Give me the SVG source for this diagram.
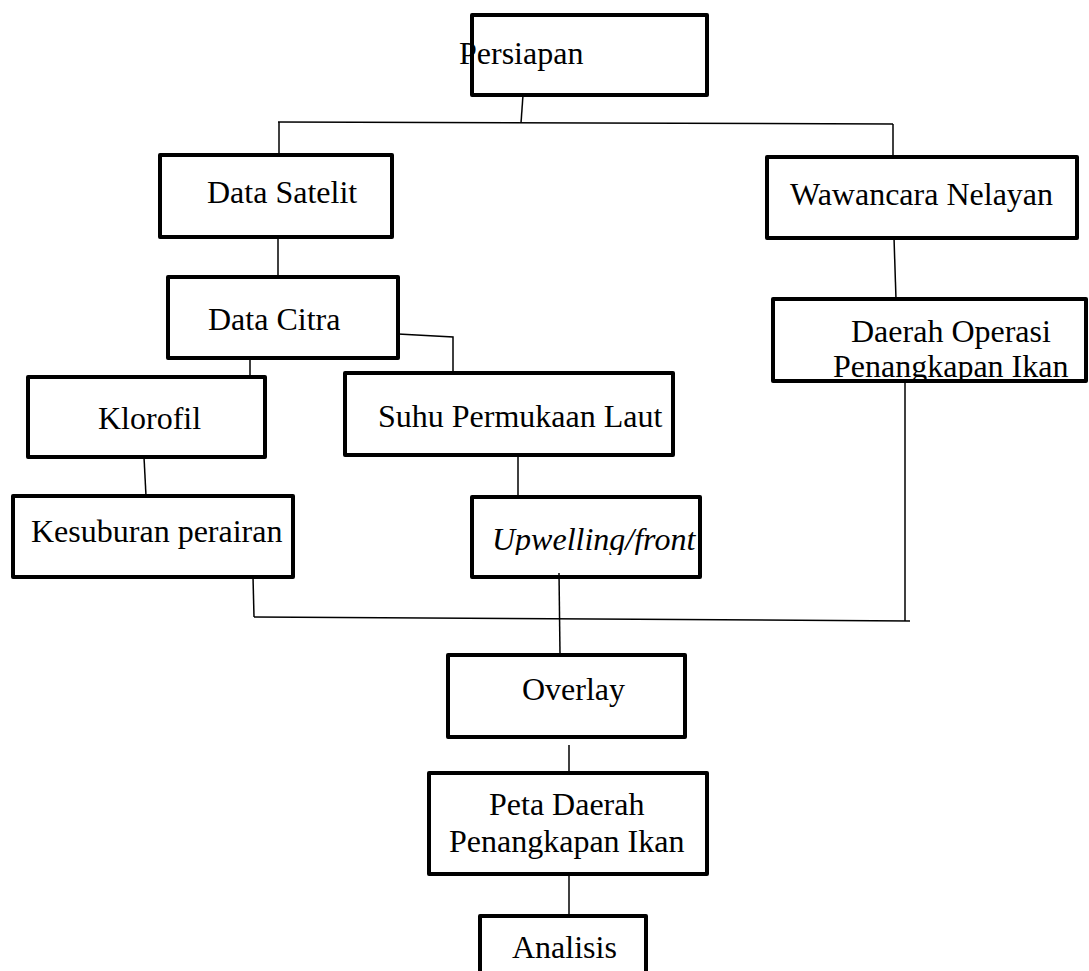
<svg xmlns="http://www.w3.org/2000/svg" width="1089" height="971" viewBox="0 0 1089 971">
<style>
.box{fill:none;stroke:#000;stroke-width:4;stroke-linejoin:round}
.t{font-family:"Liberation Serif","Times New Roman",serif;font-size:32px;fill:#000}
.i{font-style:italic}
.c{fill:none;stroke:#000;stroke-width:1.5}
</style>
<defs>
<clipPath id="upclip"><rect x="470" y="495" width="240" height="60"/></clipPath>
<clipPath id="doclip"><rect x="771" y="297" width="320" height="83"/></clipPath>
</defs>
<rect x="0" y="0" width="1089" height="971" fill="#fff"/>
<g id="connectors">
<polyline class="c" points="523,95 521,123"/>
<polyline class="c" points="278,122 893,124"/>
<polyline class="c" points="279,122 279,155"/>
<polyline class="c" points="893,124 893,157"/>
<polyline class="c" points="278,237 278,277"/>
<polyline class="c" points="398,334 453,337 453,373"/>
<polyline class="c" points="250,358 250,377"/>
<polyline class="c" points="144,457 146,496"/>
<polyline class="c" points="253,577 254,617"/>
<polyline class="c" points="254,617 910,621"/>
<polyline class="c" points="905,381 905,621"/>
<polyline class="c" points="518,455 518,497"/>
<polyline class="c" points="559,573 560,654"/>
<polyline class="c" points="894,238 896,299"/>
<polyline class="c" points="569,745 569,773"/>
<polyline class="c" points="569,874 569,916"/>
</g>
<g id="persiapan">
<text class="t" x="459" y="64">Persiapan</text>
<rect class="box" x="472" y="15" width="235" height="80"/>
</g>
<g id="data-satelit">
<rect class="box" x="160" y="155" width="232" height="82"/>
<text class="t" x="207" y="203">Data Satelit</text>
</g>
<g id="wawancara">
<rect class="box" x="767" y="157" width="310" height="81"/>
<text class="t" x="790" y="205">Wawancara Nelayan</text>
</g>
<g id="data-citra">
<rect class="box" x="168" y="277" width="230" height="81"/>
<text class="t" x="208" y="330">Data Citra</text>
</g>
<g id="daerah-operasi">
<rect class="box" x="773" y="299" width="313" height="82"/>
<g clip-path="url(#doclip)">
<text class="t" x="851" y="342">Daerah Operasi</text>
<text class="t" x="833" y="377">Penangkapan Ikan</text>
</g>
</g>
<g id="klorofil">
<rect class="box" x="28" y="377" width="237" height="80"/>
<text class="t" x="98" y="429">Klorofil</text>
</g>
<g id="suhu">
<rect class="box" x="345" y="373" width="328" height="82"/>
<text class="t" x="378" y="427">Suhu Permukaan Laut</text>
</g>
<g id="kesuburan">
<rect class="box" x="13" y="496" width="280" height="81"/>
<text class="t" x="31" y="542">Kesuburan perairan</text>
</g>
<g id="upwelling">
<rect class="box" x="472" y="497" width="228" height="80"/>
<text class="t i" x="492" y="550" clip-path="url(#upclip)">Upwelling/front</text>
</g>
<g id="overlay">
<rect class="box" x="448" y="655" width="237" height="82"/>
<text class="t" x="522" y="700">Overlay</text>
</g>
<g id="peta">
<rect class="box" x="429" y="773" width="278" height="101"/>
<text class="t" x="489" y="815">Peta Daerah</text>
<text class="t" x="449" y="852">Penangkapan Ikan</text>
</g>
<g id="analisis">
<rect class="box" x="480" y="916" width="166" height="80"/>
<text class="t" x="512" y="958">Analisis</text>
</g>
</svg>
